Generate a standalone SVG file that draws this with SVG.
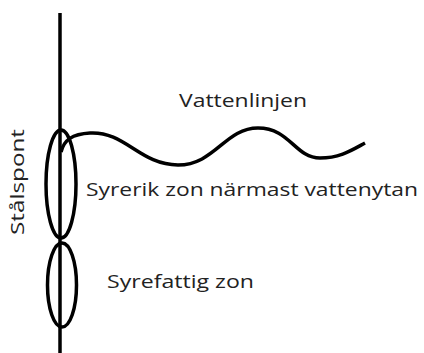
<svg xmlns="http://www.w3.org/2000/svg" width="424" height="353" viewBox="0 0 424 353">
  <style>
    .ln { fill: none; stroke: #000; stroke-width: 3.5; }
    .lbl { font-family: "Open Sans", "Liberation Sans", sans-serif; fill: #222; font-size: 19px; }
  </style>
  <rect width="424" height="353" fill="#fff"/>
  <g id="connectors">
    <line class="ln" x1="60" y1="13" x2="60" y2="353" stroke-width="4"/>
  </g>
  <g id="syrerik-zon">
    <ellipse class="ln" cx="61" cy="184" rx="15" ry="54"/>
    <text class="lbl" x="86" y="196" textLength="332" lengthAdjust="spacingAndGlyphs">Syrerik zon närmast vattenytan</text>
  </g>
  <g id="syrefattig-zon">
    <ellipse class="ln" cx="62" cy="285" rx="14.5" ry="42"/>
    <text class="lbl" x="107" y="288" textLength="147" lengthAdjust="spacingAndGlyphs">Syrefattig zon</text>
  </g>
  <g id="vattenlinjen">
    <path class="ln" stroke-width="3" d="M61,152 C64,140 72,134 90,133 C125,131 140,165 178,165 C215,165 225,128 258,128 C290,128 295,158 320,158 C340,158 352,150 365,143"/>
    <text class="lbl" x="179" y="107" textLength="128" lengthAdjust="spacingAndGlyphs">Vattenlinjen</text>
  </g>
  <g id="stalspont">
    <text class="lbl" transform="translate(24,235) rotate(-90)" x="0" y="0" textLength="106" lengthAdjust="spacingAndGlyphs">Stålspont</text>
  </g>
</svg>
